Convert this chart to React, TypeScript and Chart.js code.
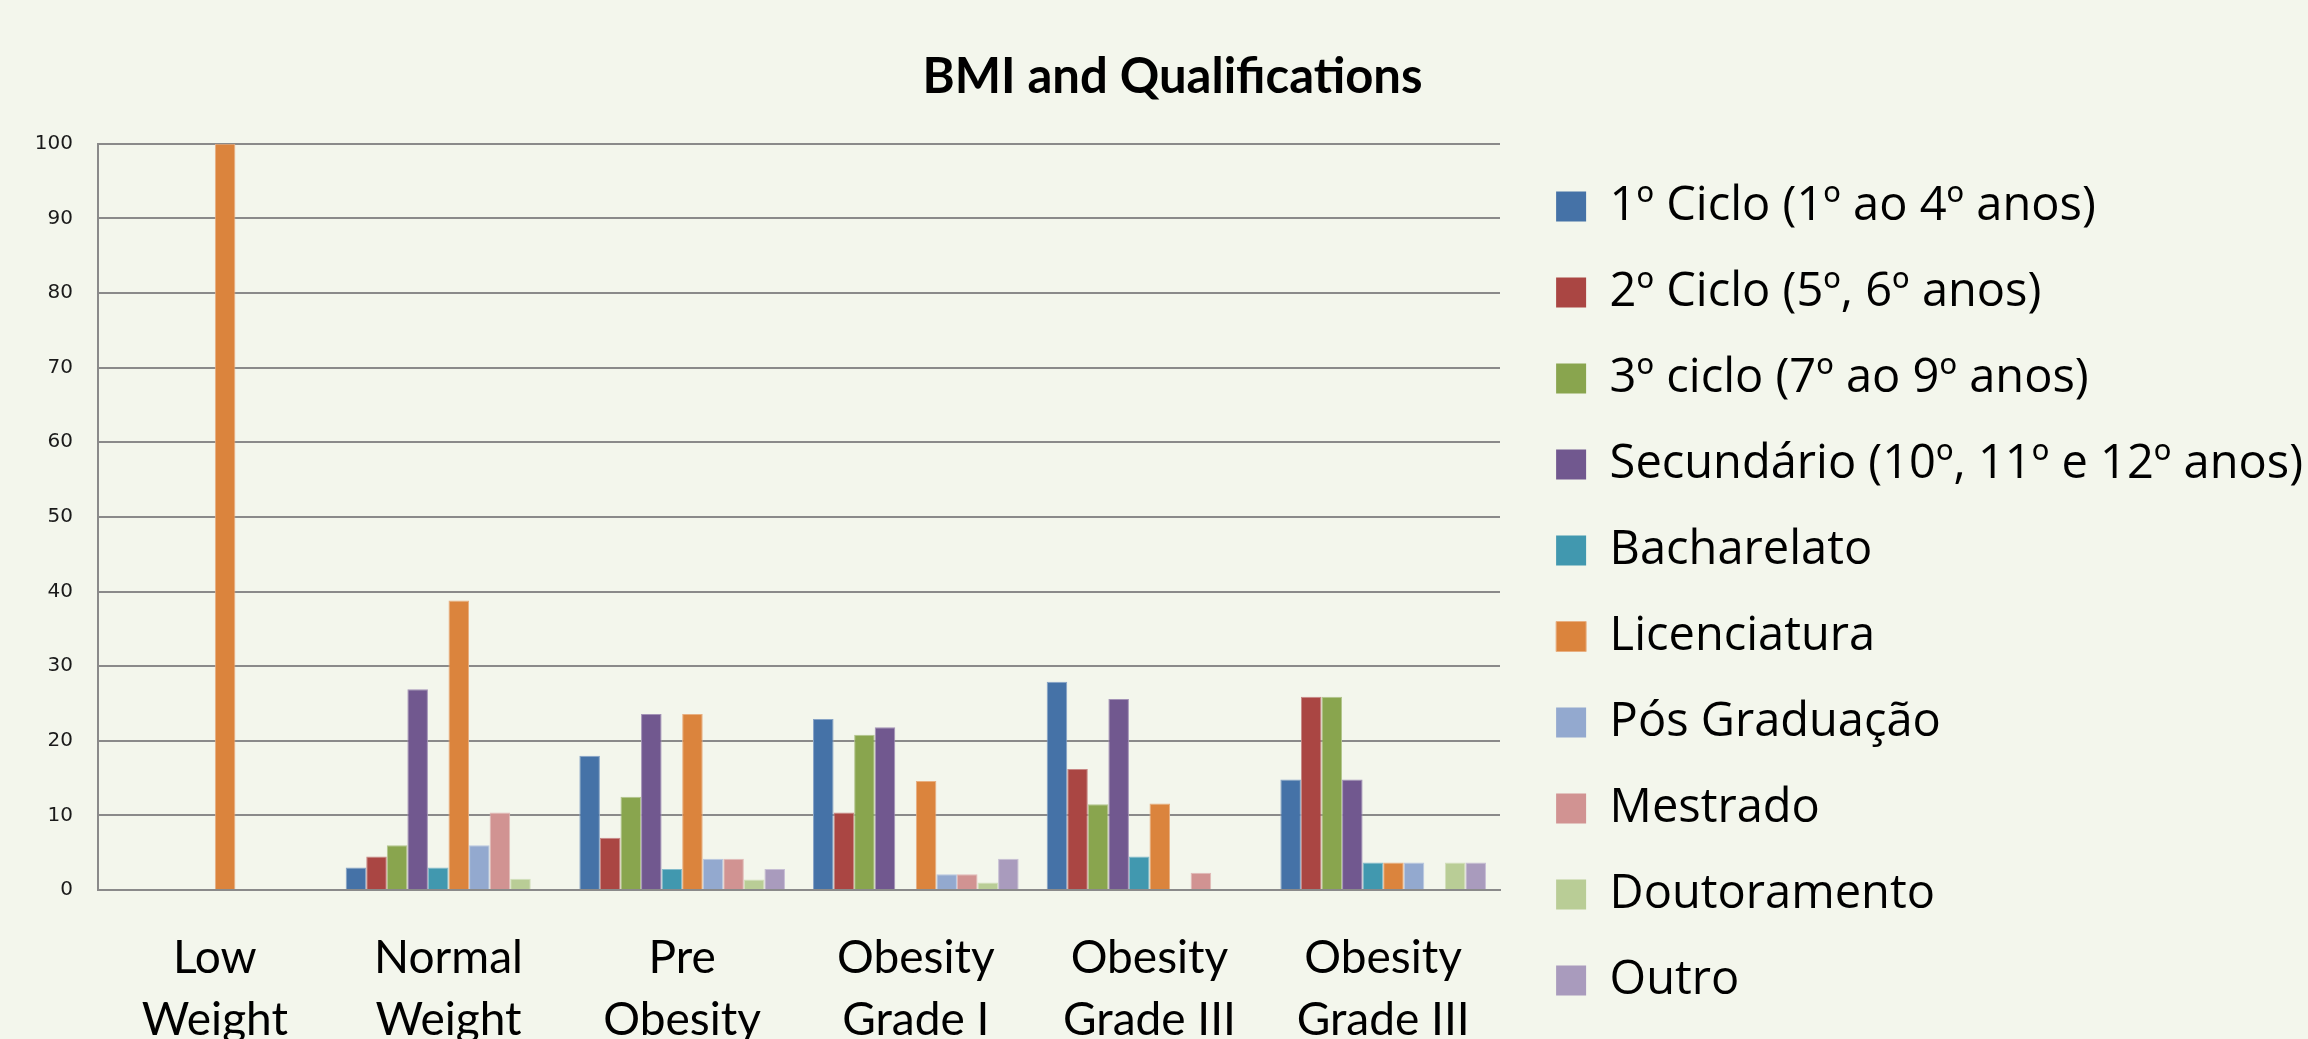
import React, { useEffect, useRef } from "react";
import { Chart, registerables } from "chart.js";

Chart.register(...registerables);

const CANVAS_W = 2308;
const CANVAS_H = 1043;
const BG = "#F3F6EC";
const GRID = "#8A8A8A";

const categories: string[][] = [
  ["Low", "Weight"],
  ["Normal", "Weight"],
  ["Pre", "Obesity"],
  ["Obesity", "Grade I"],
  ["Obesity", "Grade III"],
  ["Obesity", "Grade III"],
];

const seriesNames = [
  "1º Ciclo (1º ao 4º anos)",
  "2º Ciclo (5º, 6º anos)",
  "3º ciclo (7º ao 9º anos)",
  "Secundário (10º, 11º e 12º anos)",
  "Bacharelato",
  "Licenciatura",
  "Pós Graduação",
  "Mestrado",
  "Doutoramento",
  "Outro",
];

const seriesColors = [
  "#4572A7",
  "#AA4643",
  "#89A54E",
  "#71588F",
  "#4198AF",
  "#DB843D",
  "#93A9CF",
  "#D19392",
  "#B9CD96",
  "#A99BBD",
];

const ciclo1 = [0, 3.0, 18.0, 22.9, 27.9, 14.8];
const ciclo2 = [0, 4.5, 7.0, 10.4, 16.2, 25.9];
const ciclo3 = [0, 6.0, 12.5, 20.8, 11.5, 25.9];
const secundario = [0, 26.9, 23.6, 21.8, 25.6, 14.8];
const bacharelato = [0, 3.0, 2.8, 0, 4.5, 3.7];
const licenciatura = [100, 38.8, 23.6, 14.6, 11.6, 3.7];
const posGraduacao = [0, 6.0, 4.2, 2.1, 0, 3.7];
const mestrado = [0, 10.4, 4.2, 2.1, 2.3, 0];
const doutoramento = [0, 1.5, 1.4, 1.0, 0, 3.7];
const outro = [0, 0, 2.8, 4.2, 0, 3.7];

const seriesValues = [
  ciclo1,
  ciclo2,
  ciclo3,
  secundario,
  bacharelato,
  licenciatura,
  posGraduacao,
  mestrado,
  doutoramento,
  outro,
];

const Y_MIN = 0;
const Y_MAX = 100;
const Y_STEP = 10;

const TITLE = "BMI and Qualifications";

function lighten(hex: string, amt: number): string {
  const n = parseInt(hex.slice(1), 16);
  const r = (n >> 16) & 255;
  const g = (n >> 8) & 255;
  const b = n & 255;
  const f = (c: number) => Math.round(c + (255 - c) * amt);
  return `rgb(${f(r)},${f(g)},${f(b)})`;
}

const bgPlugin = {
  id: "bgFill",
  beforeDraw(chart: any) {
    const { ctx, width, height } = chart;
    ctx.save();
    ctx.fillStyle = BG;
    ctx.fillRect(0, 0, width, height);
    ctx.restore();
  },
};

const PAD_LEFT = 32;
const PAD_RIGHT = -5;
const PLOT_LEFT = 98;
const PLOT_RIGHT = 1500;
const PLOT_BOTTOM = 890;

export default function App() {
  const ref = useRef<HTMLCanvasElement | null>(null);

  useEffect(() => {
    if (!ref.current) return;
    const chart = new Chart(ref.current, {
      type: "bar",
      data: {
        labels: categories,
        datasets: seriesNames.map((name, i) => ({
          label: name,
          data: seriesValues[i],
          backgroundColor: seriesColors[i],
          borderColor: lighten(seriesColors[i], 0.35),
          borderWidth: (c: any) => (c.raw && c.raw > 0 ? 1 : 0),
          borderSkipped: "start",
          categoryPercentage: 0.88,
          barPercentage: 1.0,
        })),
      },
      options: {
        responsive: false,
        animation: false,
        devicePixelRatio: 1,
        layout: { padding: { left: PAD_LEFT, right: PAD_RIGHT, top: 0, bottom: 0 } },
        plugins: {
          tooltip: { enabled: false },
          title: {
            display: true,
            text: TITLE,
            color: "#000",
            font: { family: "Lato", size: 49, weight: "bold", lineHeight: 1.2 },
            padding: { top: 48, bottom: 37 },
          },
          legend: {
            display: true,
            position: "right",
            align: "end",
            maxWidth: 1000,
            labels: {
              color: "#000",
              font: { family: "Open Sans", size: 47 },
              boxWidth: 30,
              boxHeight: 30,
              padding: 39,
            },
          },
        },
        scales: {
          x: {
            type: "category",
            grid: { display: false, drawTicks: false },
            border: { display: true, color: GRID, width: 2 },
            ticks: {
              color: "#000",
              font: { family: "Lato", size: 46, lineHeight: 1.35 },
              padding: 37,
              maxRotation: 0,
              autoSkip: false,
            },
            afterFit: (s: any) => {
              s.height = CANVAS_H - PLOT_BOTTOM;
            },
          },
          y: {
            type: "linear",
            position: "left",
            min: Y_MIN,
            max: Y_MAX,
            grid: { color: GRID, lineWidth: 2, drawTicks: false },
            border: { display: true, color: GRID, width: 2 },
            ticks: {
              stepSize: Y_STEP,
              color: "#1a1a1a",
              font: { family: "DejaVu Sans", size: 20 },
              padding: 25,
            },
            afterFit: (s: any) => {
              s.width = PLOT_LEFT - PAD_LEFT;
            },
          },
          y2: {
            type: "linear",
            position: "right",
            display: true,
            grid: { display: false, drawOnChartArea: false, drawTicks: false },
            border: { display: false },
            ticks: { display: false },
            afterFit: (s: any) => {
              const lw = s.chart.legend ? s.chart.legend.width : 0;
              s.width = Math.max(0, CANVAS_W - PAD_RIGHT - PLOT_RIGHT - lw);
            },
          },
        },
      },
      plugins: [bgPlugin],
    } as any);
    return () => chart.destroy();
  }, []);

  return (
    <div
      style={{
        position: "fixed",
        left: 0,
        top: 0,
        width: "100vw",
        height: "100vh",
        overflow: "hidden",
        background: BG,
      }}
    >
      <canvas
        ref={ref}
        width={CANVAS_W}
        height={CANVAS_H}
        style={{ display: "block", width: CANVAS_W, height: CANVAS_H }}
      />
    </div>
  );
}
